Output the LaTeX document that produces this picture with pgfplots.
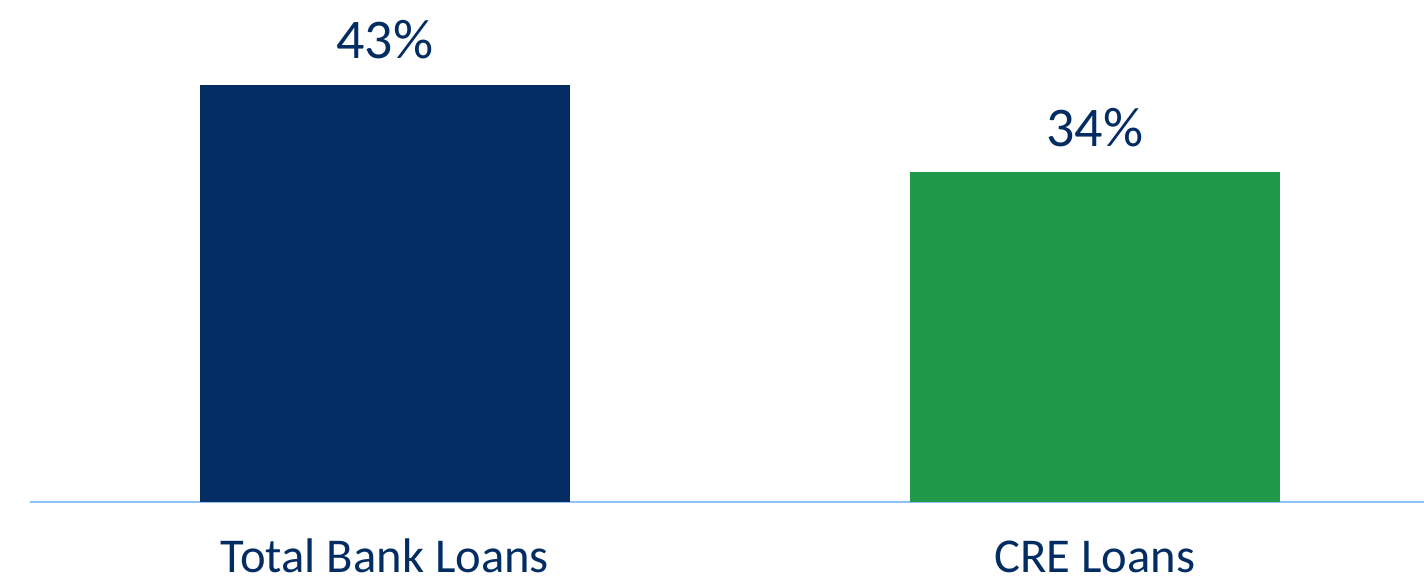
\documentclass[border=0pt]{standalone}
\usepackage{pgfplots}
\pgfplotsset{compat=1.18}
\usepackage{fontspec}
\setmainfont{Carlito}
\definecolor{navy}{RGB}{3,45,98}
\definecolor{grn}{RGB}{33,153,74}
\definecolor{axblue}{RGB}{143,195,245}
\begin{document}
\begin{tikzpicture}
\begin{axis}[
  at={(0,0)}, anchor=south west,
  width=697pt, height=251pt, scale only axis,
  xmin=-0.5, xmax=1.464, ymin=0, ymax=51.75,
  axis y line=none, axis x line*=bottom,
  x axis line style={axblue, line width=1pt, -},
  xtick={0,1}, xticklabels={Total Bank Loans, CRE Loans},
  major tick length=0pt,
  xticklabel style={font=\fontsize{24.3}{26}\selectfont, text=navy, anchor=base, inner sep=0pt, text depth=0pt, yshift=-35.5pt},
  ybar, bar width=0.5215, bar shift=0pt,
  clip=false,
  /pgf/number format/assume math mode=true,
  nodes near coords={\pgfmathprintnumber{\pgfplotspointmeta}\%},
  every node near coord/.append style={font=\fontsize{28}{30}\selectfont, text=navy, anchor=base, yshift=13pt},
]
\addplot[fill=navy, draw=none] coordinates {(0,43)};
\addplot[fill=grn, draw=none] coordinates {(1,34)};
\end{axis}
\pgfresetboundingbox
\path (-15pt,-43pt) rectangle (697pt,251pt);
\end{tikzpicture}
\end{document}
